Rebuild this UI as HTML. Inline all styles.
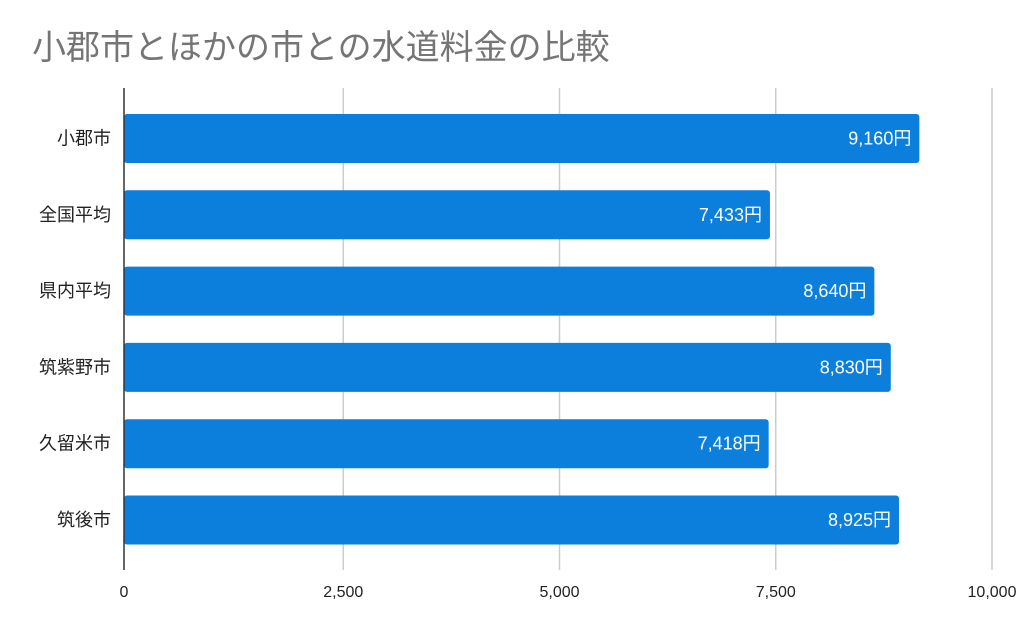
<!DOCTYPE html>
<html><head><meta charset="utf-8">
<style>
html,body{margin:0;padding:0;background:#fff;}
body{width:1024px;height:633px;overflow:hidden;font-family:"Liberation Sans","Noto Sans CJK JP",sans-serif;}
</style></head>
<body>
<svg id="chart" width="1024" height="633" xmlns="http://www.w3.org/2000/svg">
<text x="32" y="59" font-size="34" fill="#757575" font-family="'Liberation Sans','Noto Sans CJK JP',sans-serif">小郡市とほかの市との水道料金の比較</text>
<g id="grid"></g><g id="bars"></g><g id="labels"></g>
</svg>
<script>
const categories = ["小郡市","全国平均","県内平均","筑紫野市","久留米市","筑後市"];
const values = [9160,7433,8640,8830,7418,8925];
const valueLabels = ["9,160円","7,433円","8,640円","8,830円","7,418円","8,925円"];
const ticks = [0,2500,5000,7500,10000];
const tickLabels = ["0","2,500","5,000","7,500","10,000"];
const NS="http://www.w3.org/2000/svg";
const plotX0=127,plotX1=992,plotTop=88,plotBottom=570,band=76.3,barH=49,firstTop=114;
const xs=v=>plotX0+v/10000*(plotX1-plotX0);
function mk(t,a,p){const e=document.createElementNS(NS,t);for(const k in a)e.setAttribute(k,a[k]);p.appendChild(e);return e;}
const grid=document.getElementById('grid'),bars=document.getElementById('bars'),labels=document.getElementById('labels');
ticks.forEach((t,i)=>{
  if(i>0){const l=mk('line',{x1:xs(t),x2:xs(t),y1:plotTop,y2:plotBottom,stroke:'#cccccc','stroke-width':1.5},grid);
  
  }
  const tx=mk('text',{x:i===0?124:xs(t),y:597,'text-anchor':'middle','font-size':16,fill:'#222'},labels);
  tx.textContent=tickLabels[i];
  
  
});
categories.forEach((c,i)=>{
  const y=firstTop+i*band;
  const r=mk('rect',{x:plotX0-3,y:y,width:xs(values[i])-plotX0+3,height:barH,rx:3,fill:'#0b7fdb'},bars);
  
  
  const v=mk('text',{x:xs(values[i])-8,y:y+barH/2+6,'text-anchor':'end','font-size':18,fill:'#fff'},labels);
  v.textContent=valueLabels[i];
  
  
  const cl=mk('text',{x:111,y:y+barH/2+6,'text-anchor':'end','font-size':18,fill:'#222'},labels);
  cl.textContent=c;
  
  
});
const ax=mk('line',{x1:124,x2:124,y1:plotTop,y2:plotBottom,stroke:'#333','stroke-width':1.5},labels);


</script>
</body></html>
